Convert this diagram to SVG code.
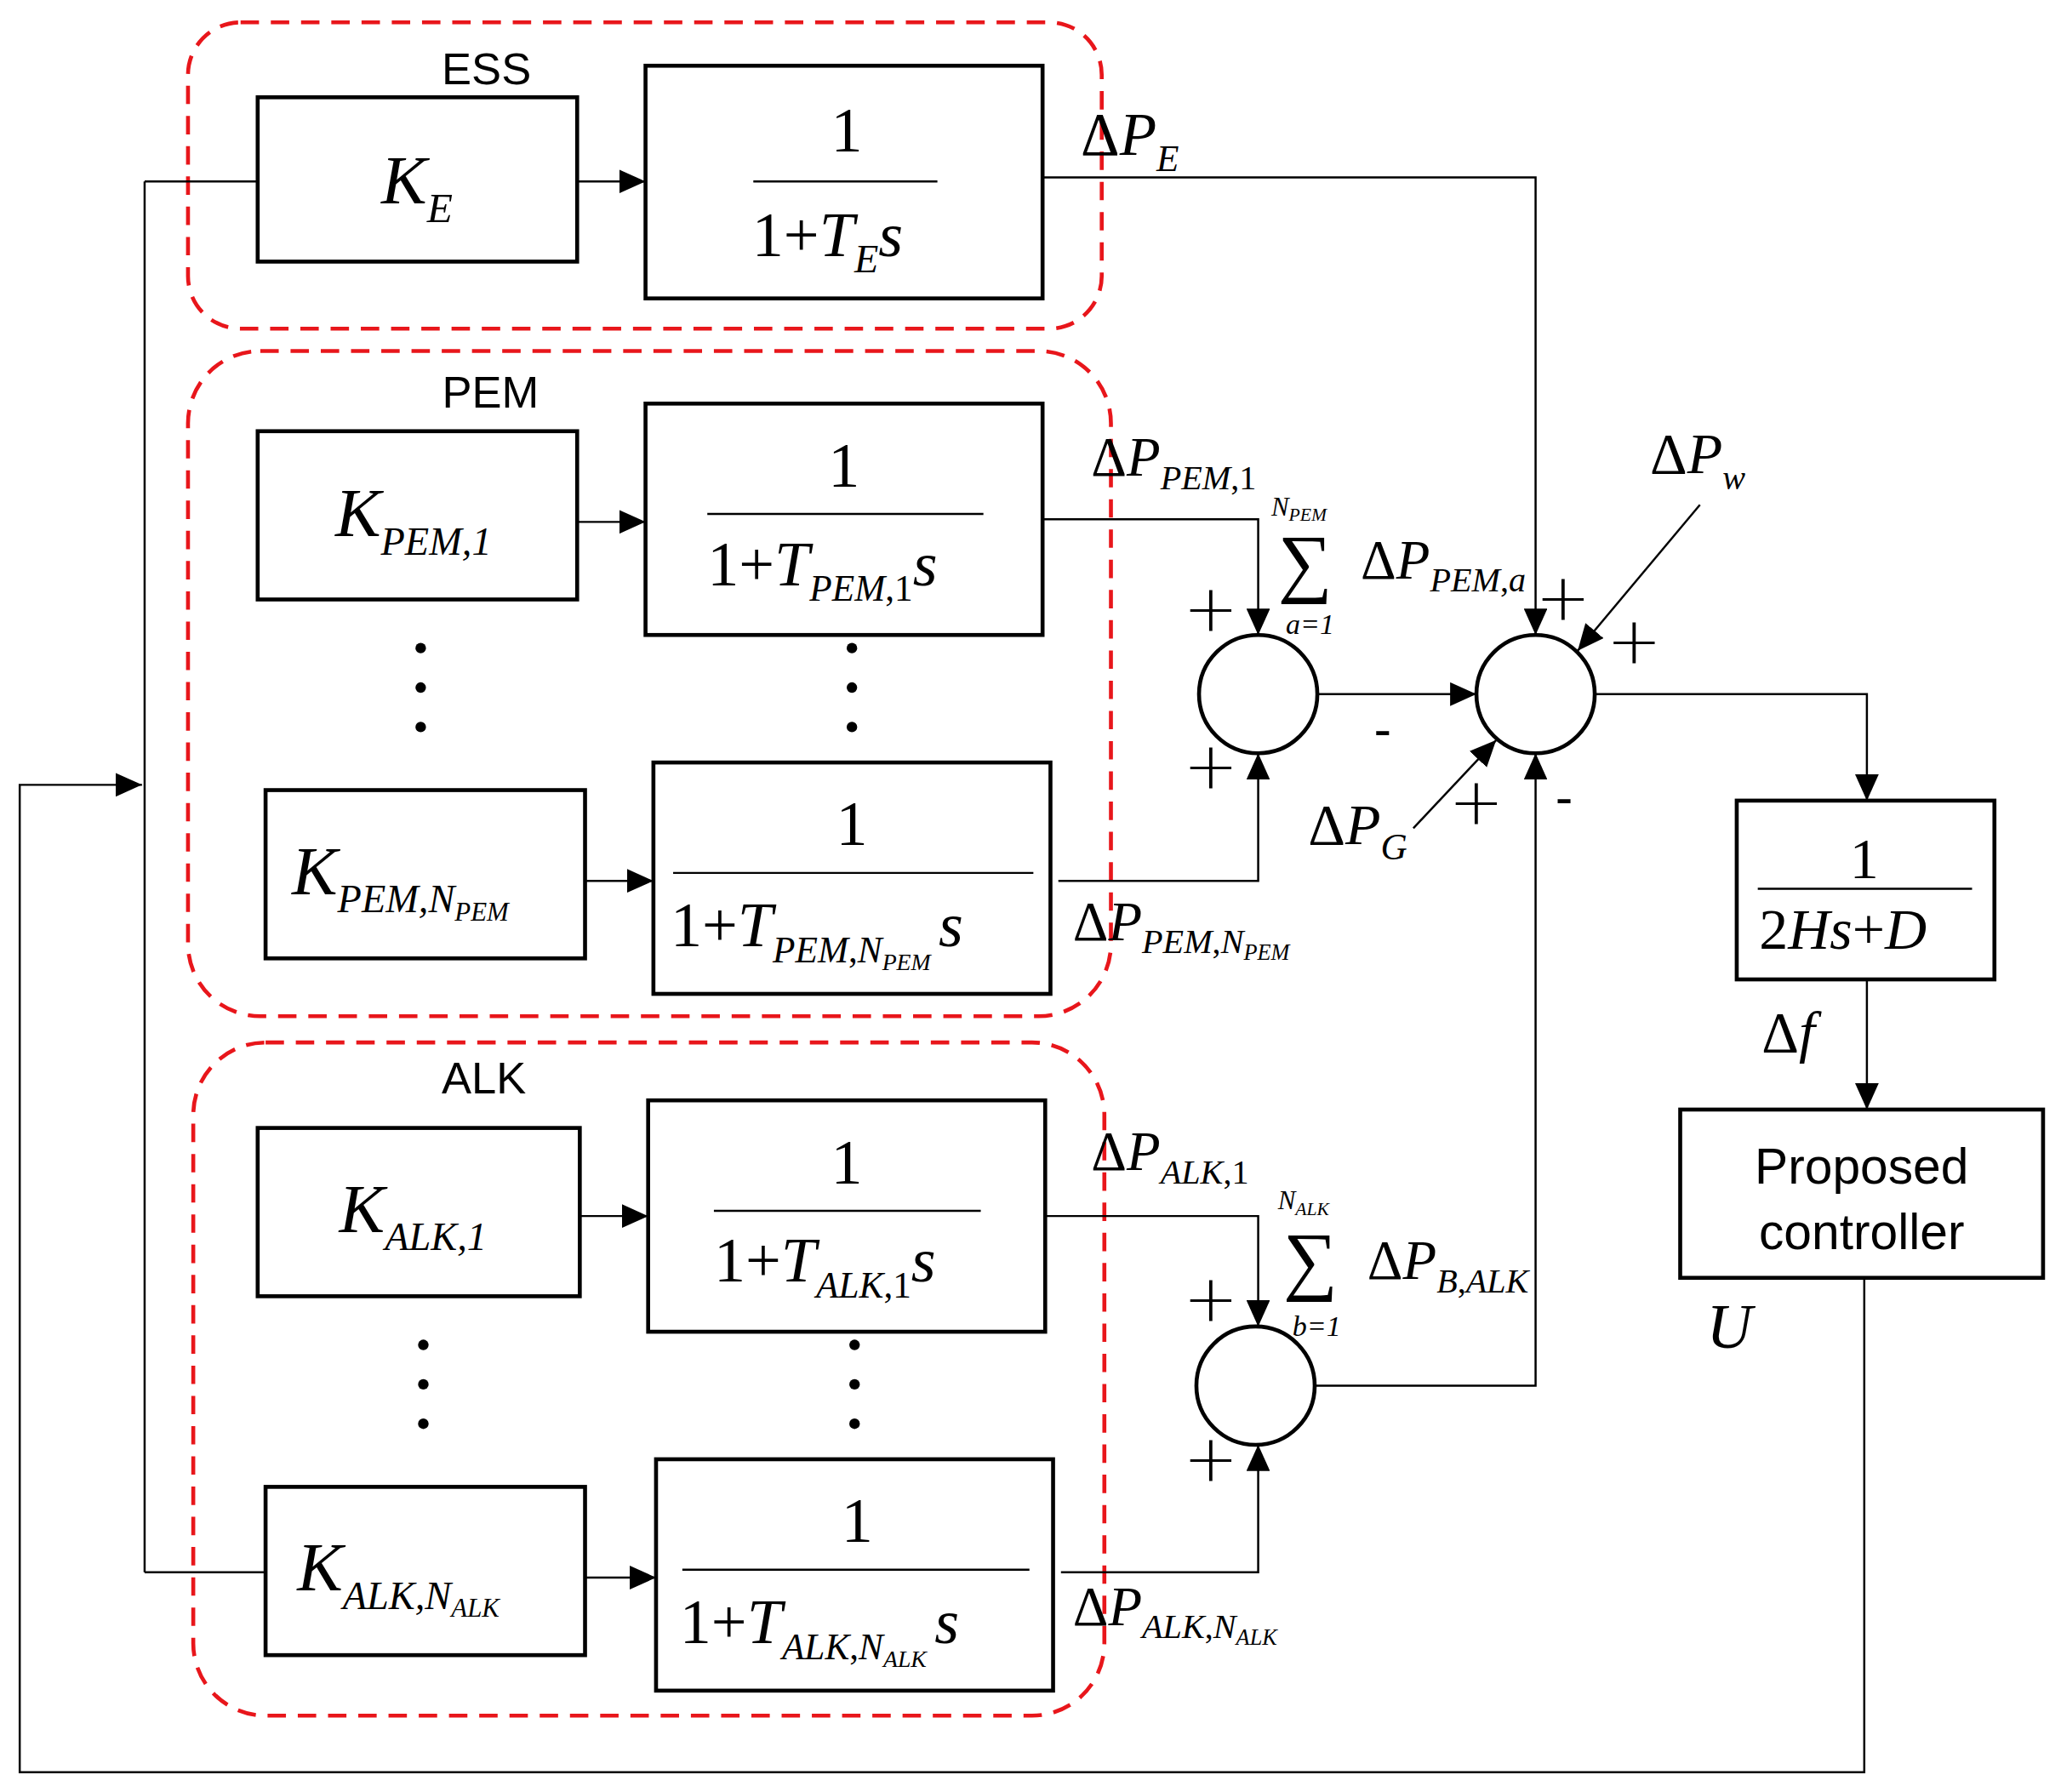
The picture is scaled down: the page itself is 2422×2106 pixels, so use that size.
<svg xmlns="http://www.w3.org/2000/svg" width="2422" height="2106" viewBox="0 0 2422 2106">
<style>
.b{fill:#fff;stroke:#000;stroke-width:3}
.d{fill:none;stroke:#e8161b;stroke-width:3;stroke-dasharray:14 9}
.l{fill:none;stroke:#000;stroke-width:1.6}
.m{font-family:"Liberation Serif",serif;font-style:italic;fill:#000}
.n{font-family:"Liberation Serif",serif;fill:#000}
.s{font-family:"Liberation Sans",sans-serif;fill:#000}
.dot{fill:#000}
.p{font-family:"DejaVu Sans",sans-serif;font-weight:300;fill:#000}
</style>
<defs><marker id="a" markerWidth="20" markerHeight="18" refX="20" refY="9" orient="auto" markerUnits="userSpaceOnUse" viewBox="0 0 20 18"><path d="M0,0 L20,9 L0,18z" fill="#000"/></marker></defs>
<rect width="2422" height="2106" fill="#fff"/>
<g transform="scale(1.545)">
<g id="groups">
<rect class="d" x="143" y="17" width="695" height="233" rx="40"/>
<rect class="d" x="143" y="267" width="702" height="506" rx="55"/>
<rect class="d" x="147" y="793" width="693" height="512" rx="55"/>
<text class="s" x="370" y="64" font-size="34" text-anchor="middle">ESS</text>
<text class="s" x="373" y="310" font-size="34" text-anchor="middle">PEM</text>
<text class="s" x="368" y="832" font-size="34" text-anchor="middle">ALK</text>
</g>
<g id="connectors">
<path class="l" d="M1418,972 V1348 H15 V597 H108" marker-end="url(#a)"/>
<path class="l" d="M110,138 V1196 M110,138 H196 M110,1196 H202"/>
<path class="l" d="M439,138 H491" marker-end="url(#a)"/>
<path class="l" d="M439,397 H491" marker-end="url(#a)"/>
<path class="l" d="M445,670 H497" marker-end="url(#a)"/>
<path class="l" d="M441,925 H493" marker-end="url(#a)"/>
<path class="l" d="M445,1200 H499" marker-end="url(#a)"/>
<path class="l" d="M793,135 H1168 V483" marker-end="url(#a)"/>
<path class="l" d="M793,395 H957 V483" marker-end="url(#a)"/>
<path class="l" d="M805,670 H957 V573" marker-end="url(#a)"/>
<path class="l" d="M1002,528 H1123" marker-end="url(#a)"/>
<path class="l" d="M1293,384 L1200,495" marker-end="url(#a)"/>
<path class="l" d="M1075,630 L1138,563" marker-end="url(#a)"/>
<path class="l" d="M1000,1054 H1168 V573" marker-end="url(#a)"/>
<path class="l" d="M795,925 H957 V1009" marker-end="url(#a)"/>
<path class="l" d="M807,1196 H957 V1099" marker-end="url(#a)"/>
<path class="l" d="M1213,528 H1420 V609" marker-end="url(#a)"/>
<path class="l" d="M1420,745 V844" marker-end="url(#a)"/>
</g>
<g id="KE"><rect class="b" x="196" y="74" width="243" height="125"/><text class="m" x="290" y="155" font-size="52">K<tspan font-size="32" dy="14">E</tspan></text></g>
<g id="TE"><rect class="b" x="491" y="50" width="302" height="177"/><text class="n" x="644" y="115" font-size="48" text-anchor="middle">1</text><line class="l" x1="573" y1="138" x2="713" y2="138"/><text class="n" x="572" y="195" font-size="48">1+<tspan class="m">T</tspan><tspan class="m" font-size="30" dy="12">E</tspan><tspan class="m" dy="-12">s</tspan></text></g>
<g id="KPEM1"><rect class="b" x="196" y="328" width="243" height="128"/><text class="m" x="255" y="408" font-size="52">K<tspan font-size="30" dy="14">PEM</tspan><tspan class="n" font-size="30">,1</tspan></text></g>
<g id="TPEM1"><rect class="b" x="491" y="307" width="302" height="176"/><text class="n" x="642" y="370" font-size="48" text-anchor="middle">1</text><line class="l" x1="538" y1="391" x2="748" y2="391"/><text class="n" x="538" y="445" font-size="48">1+<tspan class="m">T</tspan><tspan class="m" font-size="28" dy="12">PEM</tspan><tspan font-size="28">,1</tspan><tspan class="m" dy="-12">s</tspan></text></g>
<g id="KPEMN"><rect class="b" x="202" y="601" width="243" height="128"/><text class="m" x="222" y="680" font-size="52">K<tspan font-size="30" dy="14">PEM</tspan><tspan class="n" font-size="30">,</tspan><tspan font-size="30">N</tspan><tspan font-size="20" dy="6">PEM</tspan></text></g>
<g id="TPEMN"><rect class="b" x="497" y="580" width="302" height="176"/><text class="n" x="648" y="643" font-size="48" text-anchor="middle">1</text><line class="l" x1="512" y1="664" x2="786" y2="664"/><text class="n" x="510" y="720" font-size="48">1+<tspan class="m">T</tspan><tspan class="m" font-size="28" dy="12">PEM</tspan><tspan font-size="28">,</tspan><tspan class="m" font-size="28">N</tspan><tspan class="m" font-size="18" dy="6">PEM</tspan><tspan class="m" dx="6" dy="-18">s</tspan></text></g>
<g id="KALK1"><rect class="b" x="196" y="858" width="245" height="128"/><text class="m" x="258" y="937" font-size="52">K<tspan font-size="30" dy="14">ALK</tspan><tspan class="n" font-size="30">,1</tspan></text></g>
<g id="TALK1"><rect class="b" x="493" y="837" width="302" height="176"/><text class="n" x="644" y="900" font-size="48" text-anchor="middle">1</text><line class="l" x1="543" y1="921" x2="746" y2="921"/><text class="n" x="543" y="975" font-size="48">1+<tspan class="m">T</tspan><tspan class="m" font-size="28" dy="12">ALK</tspan><tspan font-size="28">,1</tspan><tspan class="m" dy="-12">s</tspan></text></g>
<g id="KALKN"><rect class="b" x="202" y="1131" width="243" height="128"/><text class="m" x="226" y="1210" font-size="52">K<tspan font-size="30" dy="14">ALK</tspan><tspan class="n" font-size="30">,</tspan><tspan font-size="30">N</tspan><tspan font-size="20" dy="6">ALK</tspan></text></g>
<g id="TALKN"><rect class="b" x="499" y="1110" width="302" height="176"/><text class="n" x="652" y="1173" font-size="48" text-anchor="middle">1</text><line class="l" x1="519" y1="1194" x2="783" y2="1194"/><text class="n" x="517" y="1250" font-size="48">1+<tspan class="m">T</tspan><tspan class="m" font-size="28" dy="12">ALK</tspan><tspan font-size="28">,</tspan><tspan class="m" font-size="28">N</tspan><tspan class="m" font-size="18" dy="6">ALK</tspan><tspan class="m" dx="6" dy="-18">s</tspan></text></g>
<g id="dots">
<circle class="dot" cx="320" cy="493" r="4"/><circle class="dot" cx="320" cy="523" r="4"/><circle class="dot" cx="320" cy="553" r="4"/>
<circle class="dot" cx="648" cy="493" r="4"/><circle class="dot" cx="648" cy="523" r="4"/><circle class="dot" cx="648" cy="553" r="4"/>
<circle class="dot" cx="322" cy="1023" r="4"/><circle class="dot" cx="322" cy="1053" r="4"/><circle class="dot" cx="322" cy="1083" r="4"/>
<circle class="dot" cx="650" cy="1023" r="4"/><circle class="dot" cx="650" cy="1053" r="4"/><circle class="dot" cx="650" cy="1083" r="4"/>
</g>
<g id="S1"><ellipse class="b" cx="957" cy="528" rx="45" ry="45"/></g>
<g id="S2"><ellipse class="b" cx="1168" cy="528" rx="45" ry="45"/></g>
<g id="S3"><ellipse class="b" cx="955" cy="1054" rx="45" ry="45"/></g>
<g id="G"><rect class="b" x="1321" y="609" width="196" height="136"/><text class="n" x="1418" y="668" font-size="44" text-anchor="middle">1</text><line class="l" x1="1337" y1="676" x2="1500" y2="676"/><text class="n" x="1338" y="722" font-size="44">2<tspan class="m">Hs</tspan>+<tspan class="m">D</tspan></text></g>
<g id="PC"><rect class="b" x="1278" y="844" width="276" height="128"/><text class="s" x="1416" y="900" font-size="38" text-anchor="middle">Proposed</text><text class="s" x="1416" y="950" font-size="38" text-anchor="middle">controller</text></g>
<g id="labels" class="n">
<text x="822" y="118" font-size="46">Δ<tspan class="m">P</tspan><tspan class="m" font-size="28" dy="12">E</tspan></text>
<text x="830" y="362" font-size="42">Δ<tspan class="m">P</tspan><tspan class="m" font-size="26" dy="10">PEM</tspan><tspan font-size="26">,1</tspan></text>
<text x="1035" y="440" font-size="42">Δ<tspan class="m">P</tspan><tspan class="m" font-size="26" dy="10">PEM</tspan><tspan font-size="26">,</tspan><tspan class="m" font-size="26">a</tspan></text>
<text x="967" y="392" font-size="20" class="m">N<tspan font-size="14" dy="4">PEM</tspan></text>
<text x="972" y="447" font-size="58">∑</text>
<text x="978" y="482" font-size="22" class="m">a<tspan class="n">=1</tspan></text>
<text x="1255" y="360" font-size="44">Δ<tspan class="m">P</tspan><tspan class="m" font-size="26" dy="12">w</tspan></text>
<text x="995" y="642" font-size="44">Δ<tspan class="m">P</tspan><tspan class="m" font-size="28" dy="12">G</tspan></text>
<text x="816" y="715" font-size="42">Δ<tspan class="m">P</tspan><tspan class="m" font-size="26" dy="10">PEM</tspan><tspan font-size="26">,</tspan><tspan class="m" font-size="26">N</tspan><tspan class="m" font-size="17" dy="5">PEM</tspan></text>
<text x="830" y="890" font-size="42">Δ<tspan class="m">P</tspan><tspan class="m" font-size="26" dy="10">ALK</tspan><tspan font-size="26">,1</tspan></text>
<text x="972" y="920" font-size="20" class="m">N<tspan font-size="14" dy="4">ALK</tspan></text>
<text x="976" y="978" font-size="58">∑</text>
<text x="983" y="1016" font-size="22" class="m">b<tspan class="n">=1</tspan></text>
<text x="1040" y="973" font-size="42">Δ<tspan class="m">P</tspan><tspan class="m" font-size="26" dy="10">B</tspan><tspan font-size="26">,</tspan><tspan class="m" font-size="26">ALK</tspan></text>
<text x="816" y="1236" font-size="42">Δ<tspan class="m">P</tspan><tspan class="m" font-size="26" dy="10">ALK</tspan><tspan font-size="26">,</tspan><tspan class="m" font-size="26">N</tspan><tspan class="m" font-size="17" dy="5">ALK</tspan></text>
<text x="1340" y="800" font-size="44">Δ<tspan class="m">f</tspan></text>
<text x="1298" y="1025" font-size="48" class="m">U</text>
<g class="p" font-size="50">
<text x="900" y="480">+</text>
<text x="900" y="600">+</text>
<text x="1168" y="472">+</text>
<text x="1222" y="505">+</text>
<text x="1102" y="627">+</text>
<text x="900" y="1005">+</text>
<text x="900" y="1127">+</text>
</g>
<text x="1045" y="568" font-size="40" class="s">-</text>
<text x="1183" y="620" font-size="40" class="s">-</text>
</g>
</g>
</svg>
